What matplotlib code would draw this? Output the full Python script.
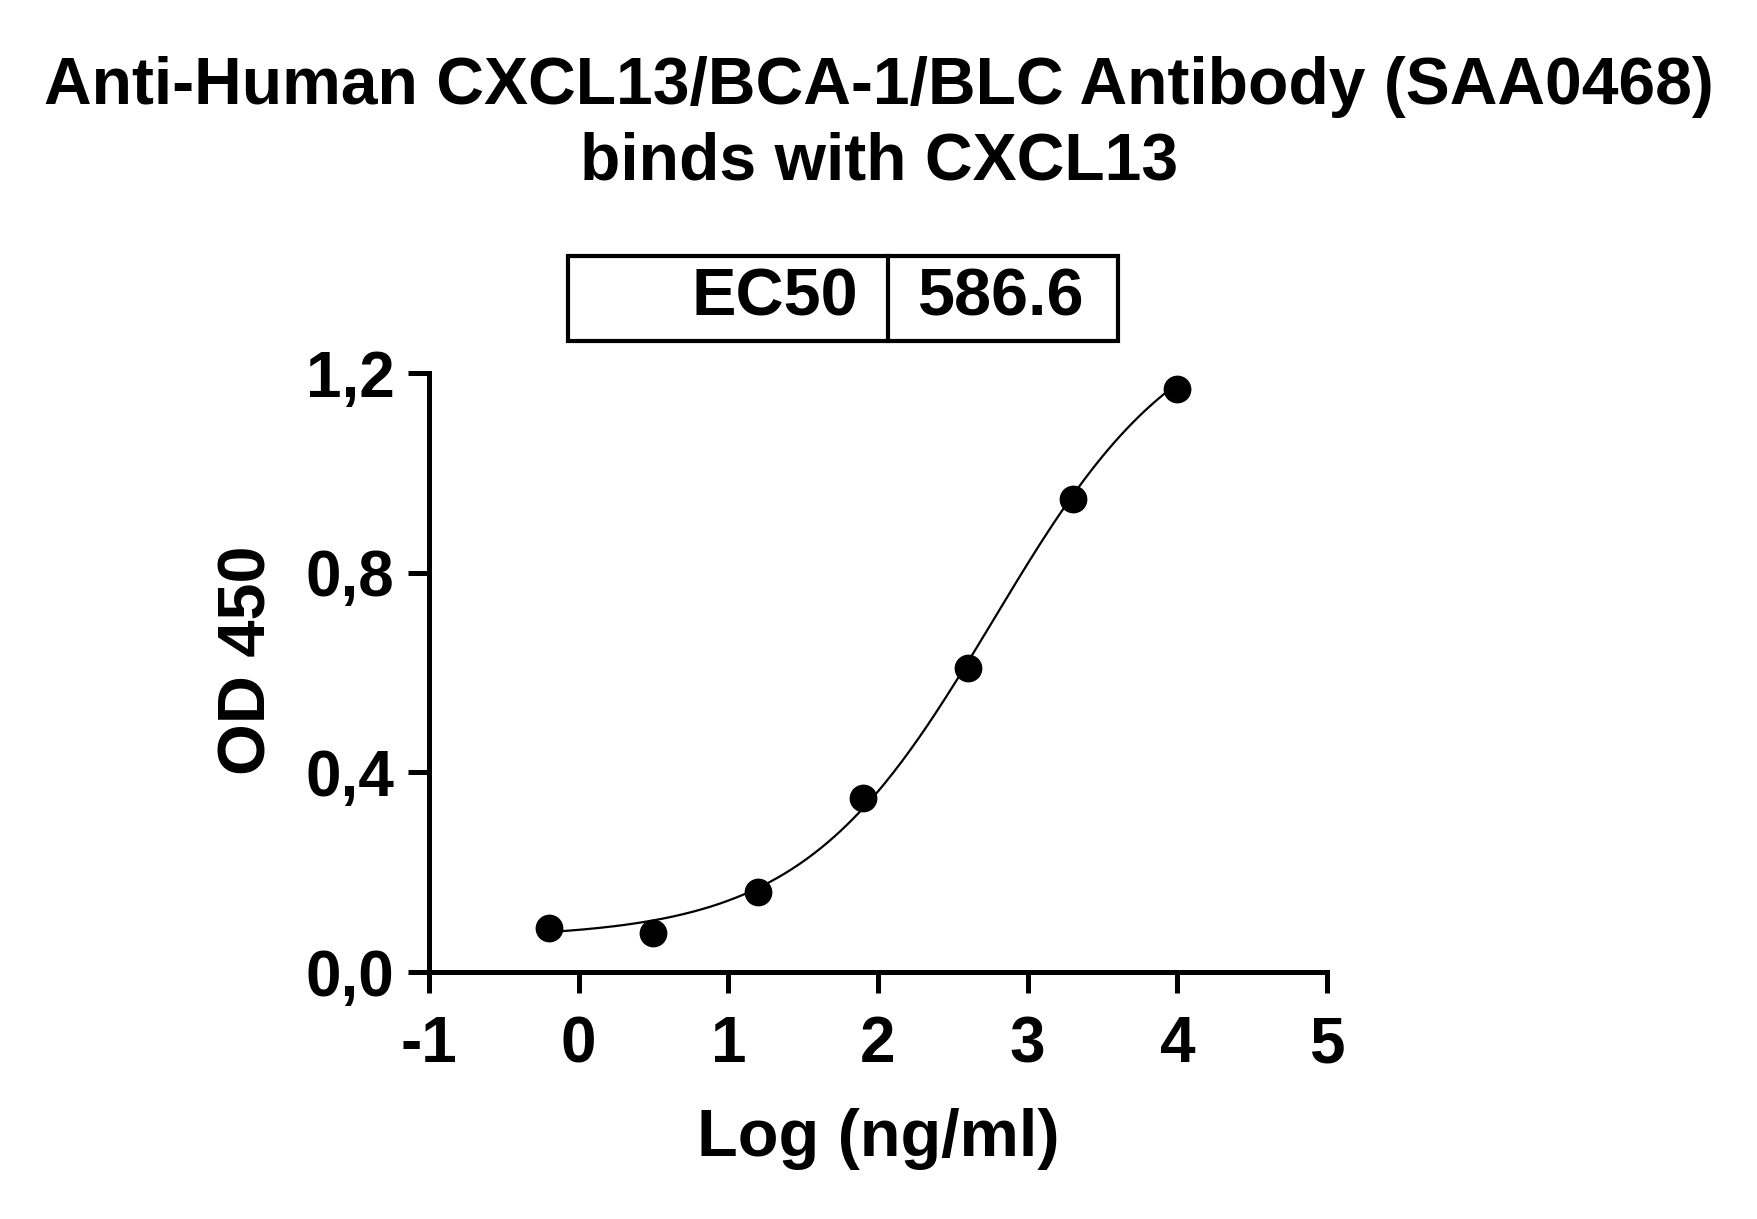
import matplotlib
matplotlib.use('Agg')
import matplotlib.pyplot as plt
from matplotlib.patches import Rectangle
import numpy as np

plt.rcParams['font.family'] = ['Liberation Sans', 'DejaVu Sans']
plt.rcParams['font.weight'] = 'bold'

W, H = 1758, 1219

# data
log_conc = [-0.2, 0.5, 1.2, 1.9, 2.6, 3.3, 4.0]
od450 = [0.088, 0.079, 0.160, 0.348, 0.609, 0.948, 1.168]
x_ticks = [-1, 0, 1, 2, 3, 4, 5]
y_ticks = [0.0, 0.4, 0.8, 1.2]
y_tick_labels = ['0,0', '0,4', '0,8', '1,2']
ec50 = 586.6

# 4PL fit shown as the line
bottom, top, hill = 0.068, 1.34, 0.68


def four_pl(x):
    return bottom + (top - bottom) / (1 + 10 ** ((np.log10(ec50) - x) * hill))


fig = plt.figure(figsize=(W / 100, H / 100), dpi=100)


def fx(px):
    return px / W


def fy(py):
    return 1 - py / H


ax = fig.add_axes([fx(429), fy(972), fx(1327) - fx(429), fy(373) - fy(972)])
xs = np.linspace(log_conc[0], log_conc[-1], 300)
ax.plot(xs, four_pl(xs), color='black', lw=1.6)
ax.plot(log_conc, od450, 'o', color='black', ms=19)

ax.set_xlim(-1, 5)
ax.set_ylim(0, 1.2)
ax.set_xticks(x_ticks)
ax.set_xticklabels([str(t) for t in x_ticks])
ax.set_yticks(y_ticks)
ax.set_yticklabels(y_tick_labels)
for s in ['top', 'right']:
    ax.spines[s].set_visible(False)
for s in ['left', 'bottom']:
    ax.spines[s].set_linewidth(3.6)
ax.tick_params(width=3.6, length=15, labelsize=46, direction='out', pad=10)
ax.tick_params(axis='x', pad=16)
ax.set_xlabel('Log (ng/ml)', fontsize=48, fontweight='bold', labelpad=24)
ax.set_ylabel('OD 450', fontsize=48, fontweight='bold')
ax.yaxis.set_label_coords(-0.166, 0.52)

fig.text(0.5, fy(87), 'Anti-Human CXCL13/BCA-1/BLC Antibody (SAA0468)', ha='center', va='center',
         fontsize=47.5, fontweight='bold')
fig.text(0.5, fy(163), 'binds with CXCL13', ha='center', va='center',
         fontsize=47.5, fontweight='bold')

# EC50 box
box = Rectangle((fx(568), fy(341)), fx(1118) - fx(568), fy(256) - fy(341),
                transform=fig.transFigure, fill=False, lw=3, ec='black')
fig.add_artist(box)
fig.add_artist(plt.Line2D([fx(888), fx(888)], [fy(341), fy(256)], transform=fig.transFigure,
                          color='black', lw=3))
fig.text(fx(858), fy(298), 'EC50', ha='right', va='center', fontsize=48, fontweight='bold')
fig.text(fx(1001), fy(298), f'{ec50}', ha='center', va='center', fontsize=48, fontweight='bold')

fig.savefig('out.png', dpi=100)
